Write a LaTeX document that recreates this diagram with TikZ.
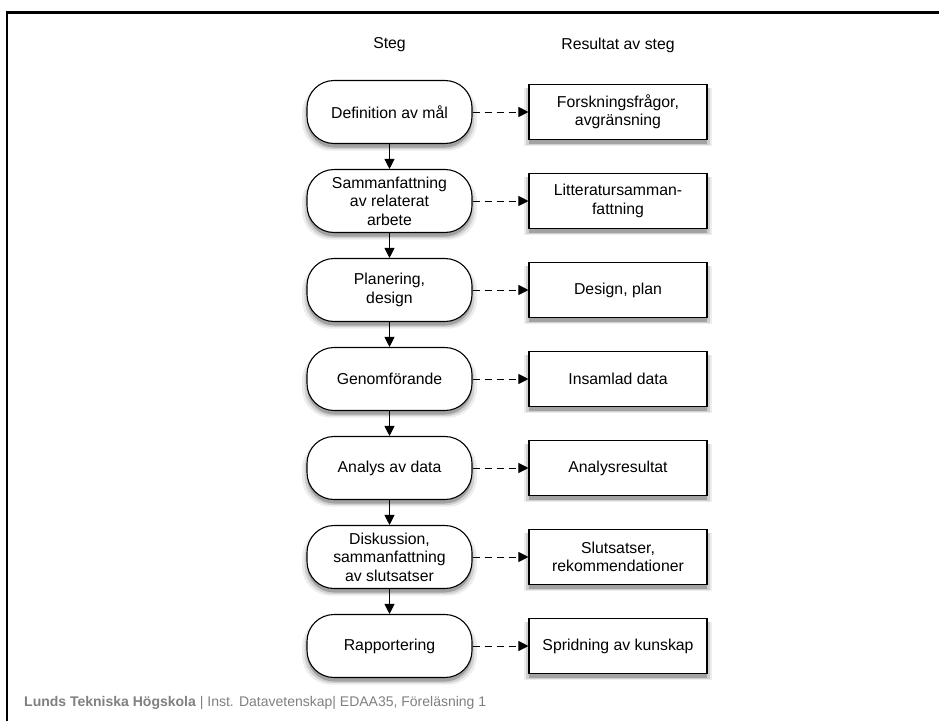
\documentclass[tikz,border=0pt]{standalone}
\usepackage{fontspec}
\setmainfont{Liberation Sans}
\usetikzlibrary{shadows,arrows.meta}
\newcommand\nodefont{\fontsize{15.8}{18.5}\selectfont}
\newcommand\footfont{\fontsize{14}{16}\selectfont}
\tikzset{
  softshadow/.style={
    general shadow={fill=black, opacity=0.07, shadow yshift=-5pt, shadow scale=1.06},
    general shadow={fill=black, opacity=0.12, shadow yshift=-4.5pt, shadow scale=1.03},
    general shadow={fill=black, opacity=0.22, shadow yshift=-4pt}},
  stepnode/.style={draw, line width=1.1pt, fill=white, rounded corners=27pt,
    minimum width=165pt, minimum height=63pt, align=center, inner sep=0pt,
    font=\nodefont, softshadow},
  resbox/.style={draw, line width=1.1pt, fill=white,
    minimum width=178pt, minimum height=55pt, align=center, inner sep=0pt,
    font=\nodefont, softshadow},
  flow/.style={-{Triangle[length=10pt,width=10pt]}, line width=1pt},
  resarrow/.style={-{Triangle[length=10pt,width=10pt]}, line width=1pt, dash pattern=on 7pt off 5pt},
  header/.style={font=\nodefont}
}
\begin{document}
\begin{tikzpicture}[x=1pt,y=-1pt]
\useasboundingbox (0,0) rectangle (939,720);
\fill[white] (0,0) rectangle (939,720);
\draw[line width=2.5pt] (942,12.5) -- (7,12.5) -- (7,723);

\node[header] (h1) at (389.5,45) {Steg};
\node[header] (h2) at (618,45) {Resultat av steg};

\node[stepnode] (s1) at (389.5,112) {Definition av mål};
\node[stepnode] (s2) at (389.5,201) {Sammanfattning\\av relaterat\\arbete};
\node[stepnode] (s3) at (389.5,290) {Planering,\\design};
\node[stepnode] (s4) at (389.5,379) {Genomförande};
\node[stepnode] (s5) at (389.5,468) {Analys av data};
\node[stepnode] (s6) at (389.5,557) {Diskussion,\\sammanfattning\\av slutsatser};
\node[stepnode] (s7) at (389.5,646) {Rapportering};

\node[resbox] (r1) at (618,112) {Forskningsfrågor,\\avgränsning};
\node[resbox] (r2) at (618,201) {Litteratursamman-\\fattning};
\node[resbox] (r3) at (618,290) {Design, plan};
\node[resbox] (r4) at (618,379) {Insamlad data};
\node[resbox] (r5) at (618,468) {Analysresultat};
\node[resbox] (r6) at (618,557) {Slutsatser,\\rekommendationer};
\node[resbox] (r7) at (618,646) {Spridning av kunskap};

\foreach \a/\b in {s1/s2,s2/s3,s3/s4,s4/s5,s5/s6,s6/s7}
  \draw[flow] (\a.south) -- (\b.north);
\foreach \i in {1,...,7}
  \draw[resarrow] (s\i.east) -- (r\i.west);

\node[anchor=west, font=\footfont, text=black!50, inner sep=0pt] (foot) at (24,703)
  {\textbf{Lunds Tekniska Högskola} | Inst. Datavetenskap| EDAA35, Föreläsning 1};
\end{tikzpicture}
\end{document}
